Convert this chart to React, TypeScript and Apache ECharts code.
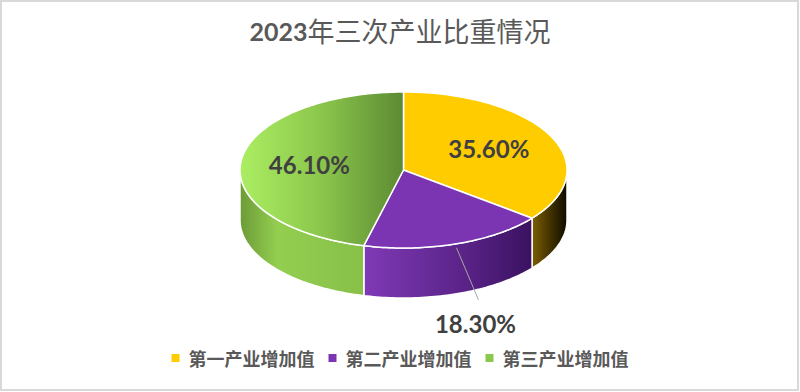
import React, { useEffect, useRef } from "react";
import * as echarts from "echarts";

const titleYear = "2023";
const titleRest = "年三次产业比重情况";
const categories = ["第一产业增加值", "第二产业增加值", "第三产业增加值"];
const values = [35.6, 18.3, 46.1];
const baseColors = ["#FFCC00", "#7B35B2", "#8CC84B"];

const CX = 403.5;
const CY = 170;
const RX = 163.5;
const RY = 78;
const DEPTH = 50;

function pt(t: number, dy: number): number[] {
  return [CX + RX * Math.sin(t), CY - RY * Math.cos(t) + dy];
}
function arc(a0: number, a1: number, dy: number): number[][] {
  const n = Math.max(4, Math.ceil(Math.abs(a1 - a0) / 0.02));
  const out: number[][] = [];
  for (let k = 0; k <= n; k++) out.push(pt(a0 + ((a1 - a0) * k) / n, dy));
  return out;
}

const lg = (stops: [number, string][]) =>
  new echarts.graphic.LinearGradient(0, 0, 1, 0, stops.map(([offset, color]) => ({ offset, color })));

const topFills = [
  "#FFCC00",
  "#7B35B2",
  lg([[0, "#ABEE62"], [0.5, "#8BC64C"], [1, "#5C8A33"]]),
];
const wallFills = [
  lg([[0, "#7C5E00"], [1, "#0E0A00"]]),
  lg([[0, "#7F3AB6"], [0.6, "#5A2388"], [1, "#3A1160"]]),
  lg([[0, "#6C9B37"], [0.3, "#93CE50"], [1, "#88C048"]]),
];

export default function App() {
  const ref = useRef<HTMLDivElement>(null);
  useEffect(() => {
    if (!ref.current) return;
    const chart = echarts.init(ref.current, undefined, { renderer: "svg" });
    const total = values.reduce((a, b) => a + b, 0);
    const series = categories.map((name, i) => ({
      type: "custom",
      name,
      coordinateSystem: "none",
      itemStyle: { color: baseColors[i] },
      data: [values[i]],
      renderItem: (params: any, api: any) => {
        const v = api.value(0);
        const before = values.slice(0, i).reduce((a, b) => a + b, 0);
        const start = (before / total) * Math.PI * 2;
        const end = start + (v / total) * Math.PI * 2;
        const children: any[] = [];
        const w0 = Math.max(start, Math.PI / 2);
        const w1 = Math.min(end, (Math.PI * 3) / 2);
        if (w1 > w0) {
          const pts = arc(w0, w1, 0).concat(arc(w1, w0, DEPTH));
          children.push({
            type: "polygon",
            shape: { points: pts },
            style: { fill: wallFills[i], stroke: "#FFFFFF", lineWidth: 1.5, lineJoin: "round" },
            z2: 1,
          });
        }
        const topPts = [[CX, CY]].concat(arc(start, end, 0));
        children.push({
          type: "polygon",
          shape: { points: topPts },
          style: { fill: topFills[i], stroke: "#FFFFFF", lineWidth: 1.5, lineJoin: "round" },
          z2: 2,
        });
        const mid = (start + end) / 2;
        const text = v.toFixed(2) + "%";
        const font = { fontFamily: "Lato", fontWeight: "bold", fontSize: 24, fill: "#404040", align: "center", verticalAlign: "middle" };
        if (v / total > 0.25) {
          const p = [CX + RX * 0.58 * Math.sin(mid), CY - RY * 0.62 * Math.cos(mid)];
          children.push({ type: "text", x: p[0], y: p[1], style: { text, ...font }, z2: 5 });
        } else {
          const e = pt(mid, 4);
          children.push({
            type: "polyline",
            shape: { points: [e, [e[0] + 22, e[1] + 52]] },
            style: { stroke: "#A6A6A6", lineWidth: 1, fill: "none" },
            z2: 5,
          });
          children.push({ type: "text", x: e[0] + 19, y: e[1] + 76, style: { text, ...font }, z2: 5 });
        }
        return { type: "group", children };
      },
    }));
    chart.setOption({
      animation: false,
      title: {
        text: `{a|${titleYear}}{b|${titleRest}}`,
        left: "center",
        top: 12,
        textStyle: {
          rich: {
            a: { fontFamily: "Lato", fontWeight: "bold", fontSize: 25, color: "#595959" },
            b: { fontFamily: "Noto Sans CJK SC", fontWeight: "normal", fontSize: 27, color: "#595959" },
          },
        },
      },
      legend: {
        bottom: 20,
        left: "center",
        icon: "rect",
        itemWidth: 8,
        itemHeight: 8,
        itemGap: 14,
        data: categories,
        textStyle: {
          fontFamily: "Noto Sans CJK SC",
          fontWeight: "bold",
          fontSize: 18,
          color: "#595959",
          padding: [0, 0, 0, 4],
        },
      },
      graphic: [
        {
          type: "rect",
          shape: { x: 1, y: 1, width: 797, height: 389 },
          style: { fill: "none", stroke: "#D9D9D9", lineWidth: 2 },
          silent: true,
        },
      ],
      series,
    });
    return () => chart.dispose();
  }, []);
  return (
    <div style={{ position: "fixed", left: 0, top: 0, width: 800, height: 392, background: "#fff" }}>
      <div ref={ref} style={{ width: 800, height: 392 }} />
    </div>
  );
}
